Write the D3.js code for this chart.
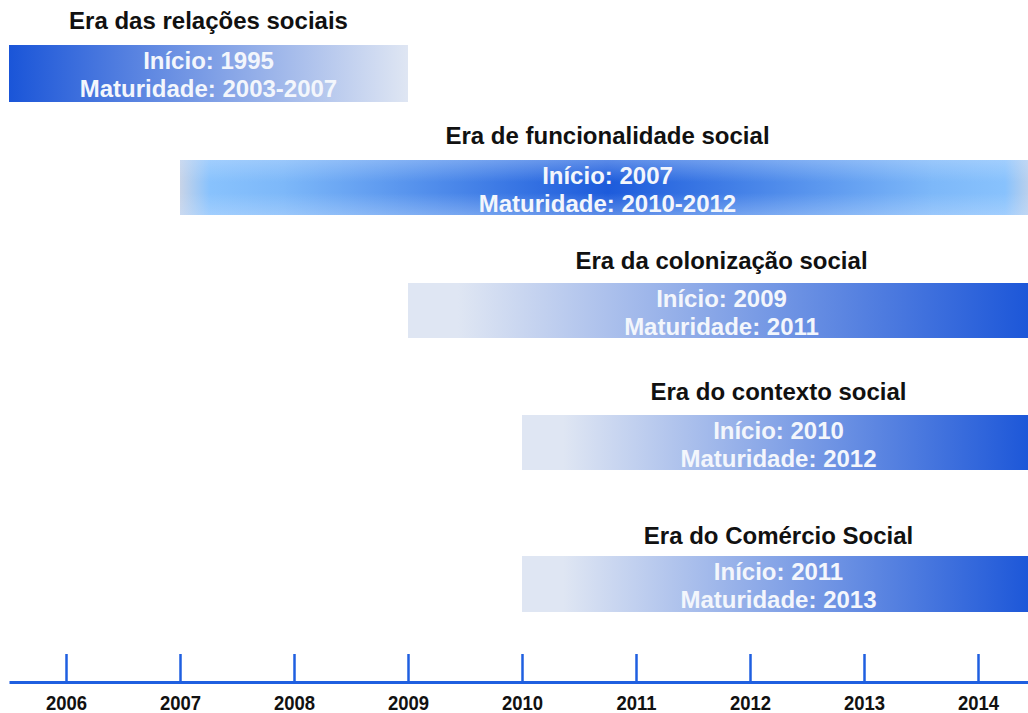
<!DOCTYPE html>
<html>
<head>
<meta charset="utf-8">
<script src="https://cdn.jsdelivr.net/npm/d3@7"></script>
<style>
  body { margin: 0; background: #fff; }
  svg text { font-family: Arial, "Liberation Sans", sans-serif; font-weight: bold; }
</style>
</head>
<body>
<div id="chart"></div>
<script>
// data
var eras = ["Era das relações sociais", "Era de funcionalidade social", "Era da colonização social",
            "Era do contexto social", "Era do Comércio Social"];
var startYears = [2005.5, 2007, 2009, 2010, 2010];
var endYears = [2009, 2014.5, 2014.5, 2014.5, 2014.5];
var inicio = ["Início: 1995", "Início: 2007", "Início: 2009", "Início: 2010", "Início: 2011"];
var maturidade = ["Maturidade: 2003-2007", "Maturidade: 2010-2012", "Maturidade: 2011",
                  "Maturidade: 2012", "Maturidade: 2013"];
var years = [2006, 2007, 2008, 2009, 2010, 2011, 2012, 2013, 2014];

// layout per row
var barTop = [45, 160, 283, 415, 556];
var barH = [57, 55, 55, 55, 56];
var titleBase = [29, 144, 269, 400, 544];
var gradType = ["dark-left", "center", "dark-right", "dark-right", "dark-right"];

var svgWidth = 1028, svgHeight = 713;

var svg = d3.select("#chart").append("svg")
    .attr("width", svgWidth)
    .attr("height", svgHeight);

var x = d3.scaleLinear()
    .domain([2005.5, 2014.5])
    .range([9, 1035]);

var dark = "#1a55d8", light = "#dfe6f3";
var defs = svg.append("defs");

function linGrad(id, stops) {
    var g = defs.append("linearGradient").attr("id", id)
        .attr("x1", 0).attr("x2", 1).attr("y1", 0).attr("y2", 0);
    stops.forEach(function(s) {
        g.append("stop").attr("offset", s[0]).attr("stop-color", s[1]);
    });
}
linGrad("dark-left", [[0, dark], [1, light]]);
linGrad("dark-right", [[0, light], [0.08, light], [1, dark]]);
linGrad("center", [[0, "#c8d4e8"], [0.035, "#88c2fd"], [0.12, "#7db8f9"], [0.5, "#1d5bdb"],
                   [0.88, "#7db8f9"], [0.965, "#88c2fd"], [1, "#c8d4e8"]]);

// soft vertical haze for the centre bar
var vg = defs.append("linearGradient").attr("id", "haze")
    .attr("x1", 0).attr("x2", 0).attr("y1", 0).attr("y2", 1);
vg.append("stop").attr("offset", 0).attr("stop-color", "#cfe4ff").attr("stop-opacity", 0.35);
vg.append("stop").attr("offset", 0.4).attr("stop-color", "#cfe4ff").attr("stop-opacity", 0);
vg.append("stop").attr("offset", 0.6).attr("stop-color", "#cfe4ff").attr("stop-opacity", 0);
vg.append("stop").attr("offset", 1).attr("stop-color", "#cfe4ff").attr("stop-opacity", 0.35);

eras.forEach(function(name, i) {
    var x0 = x(startYears[i]), x1 = x(endYears[i]);
    var cx = (x0 + x1) / 2;

    svg.append("rect")
        .attr("x", x0).attr("y", barTop[i])
        .attr("width", x1 - x0).attr("height", barH[i])
        .attr("fill", "url(#" + gradType[i] + ")");

    if (gradType[i] === "center") {
        svg.append("rect")
            .attr("x", x0).attr("y", barTop[i])
            .attr("width", x1 - x0).attr("height", barH[i])
            .attr("fill", "url(#haze)");
    }

    svg.append("text")
        .attr("x", cx).attr("y", titleBase[i])
        .attr("text-anchor", "middle")
        .attr("font-size", 24)
        .attr("fill", "#111")
        .text(name);

    svg.append("text")
        .attr("x", cx).attr("y", barTop[i] + 24)
        .attr("text-anchor", "middle")
        .attr("font-size", 24)
        .attr("fill", "#f3f6fc")
        .text(inicio[i]);

    svg.append("text")
        .attr("x", cx).attr("y", barTop[i] + 52)
        .attr("text-anchor", "middle")
        .attr("font-size", 24)
        .attr("fill", "#f3f6fc")
        .text(maturidade[i]);
});

// time axis
var xAxis = d3.axisBottom(x)
    .tickValues(years)
    .tickFormat(d3.format("d"))
    .tickSizeInner(-28)
    .tickSizeOuter(0)
    .tickPadding(13);

var axisG = svg.append("g")
    .attr("transform", "translate(0, 682)")
    .call(xAxis);

axisG.select(".domain").attr("stroke", "#1f5fe0").attr("stroke-width", 3);
axisG.selectAll(".tick line").attr("stroke", "#1f5fe0").attr("stroke-width", 2.5);
axisG.selectAll(".tick text")
    .attr("font-size", 21)
    .attr("fill", "#111")
    .attr("dy", "0.71em")
    .attr("transform", "scale(0.88,1)");
</script>
</body>
</html>
